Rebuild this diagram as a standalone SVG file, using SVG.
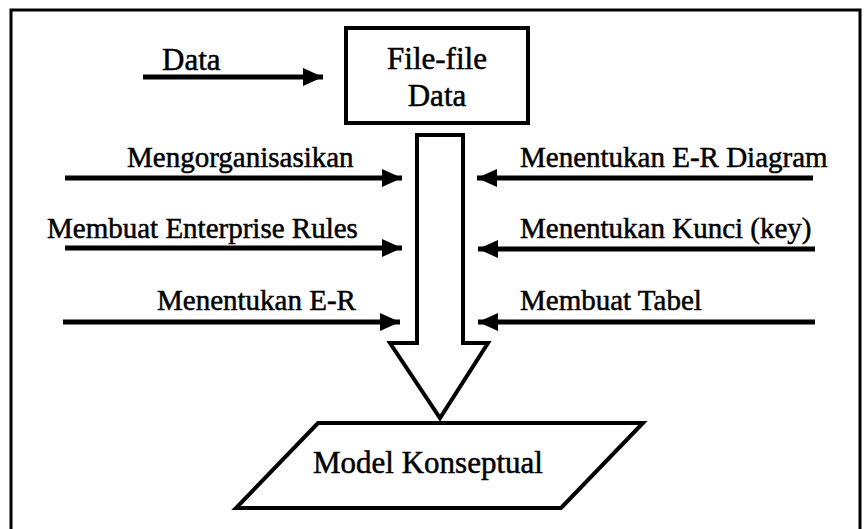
<svg xmlns="http://www.w3.org/2000/svg" width="865" height="529" viewBox="0 0 865 529">
<style>
  text { stroke: #000; stroke-width: 0.5; }
  .lbl { font-size: 29px; }
  .big { font-size: 31px; }
  .shape { fill: #fff; stroke: #000; stroke-width: 4; stroke-linejoin: miter; }
  .conn { stroke: #000; stroke-width: 5; fill: none; }
</style>
<defs>
  <marker id="ah" markerUnits="userSpaceOnUse" markerWidth="22" markerHeight="20" refX="20" refY="10" orient="auto">
    <path d="M0,1 L20,10 L0,19 Z" fill="#000"/>
  </marker>
</defs>
<rect width="865" height="529" fill="#fff"/>
<path d="M11,529 V10 H860 V529" fill="none" stroke="#000" stroke-width="3"/>

<g font-family="'Liberation Serif', 'DejaVu Serif', serif" fill="#000">
<g id="file-data">
  <rect class="shape" x="346" y="28" width="182" height="95"/>
  <text class="big" x="437" y="69" text-anchor="middle">File-file</text>
  <text class="big" x="437" y="106" text-anchor="middle">Data</text>
</g>

<g id="flow-arrow">
  <path class="shape" d="M417,135 H463 V343 H488 L440,418 L390,343 H417 Z"/>
</g>

<g id="model-konseptual">
  <path class="shape" d="M318,423 H643 L561,508 H236 Z"/>
  <text class="big" x="428" y="473" text-anchor="middle">Model Konseptual</text>
</g>

<g id="connectors">
  <line class="conn" x1="143" y1="77" x2="323" y2="77" marker-end="url(#ah)"/>
  <line class="conn" x1="65" y1="178" x2="402" y2="178" marker-end="url(#ah)"/>
  <line class="conn" x1="65" y1="248" x2="402" y2="248" marker-end="url(#ah)"/>
  <line class="conn" x1="63" y1="322" x2="400" y2="322" marker-end="url(#ah)"/>
  <line class="conn" x1="813" y1="178" x2="477" y2="178" marker-end="url(#ah)"/>
  <line class="conn" x1="815" y1="249" x2="478" y2="249" marker-end="url(#ah)"/>
  <line class="conn" x1="815" y1="322" x2="478" y2="322" marker-end="url(#ah)"/>
</g>

<g id="labels">
  <text class="big" x="162" y="70">Data</text>
  <text class="lbl" x="127" y="167">Mengorganisasikan</text>
  <text class="lbl" x="47" y="238">Membuat Enterprise Rules</text>
  <text class="lbl" x="157" y="310">Menentukan E-R</text>
  <text class="lbl" x="520" y="167">Menentukan E-R Diagram</text>
  <text class="lbl" x="520" y="238">Menentukan Kunci (key)</text>
  <text class="lbl" x="520" y="310">Membuat Tabel</text>
</g>
</g>
</svg>
